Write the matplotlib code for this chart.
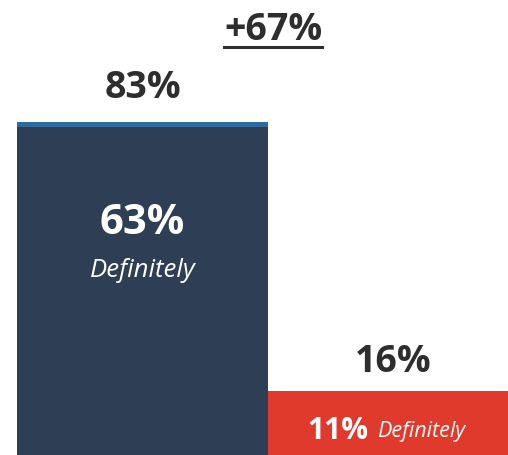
import numpy as np
import matplotlib.pyplot as plt

# values
groups = ['Group A', 'Group B']
totals = [83, 16]
definitely = [63, 11]
change_label = '+67%'

navy = '#2d3e55'
red = '#e03a2d'
dark = '#2e2e2e'

plt.rcParams['font.family'] = ['Open Sans', 'DejaVu Sans']

fig = plt.figure(figsize=(5.08, 4.56), dpi=100)
ax = fig.add_axes([0, 0, 1, 1])

x = np.arange(len(groups))
ax.bar(x, totals, width=1.0, color=[navy, red], linewidth=0)
# lighter bevel strip on top of the first bar
ax.bar(x[0], 1.3, bottom=totals[0] - 1.3, width=1.0, color='#2f6b9c', linewidth=0)

ax.set_xlim(-0.568, 1.456)
ax.set_ylim(0, 113.7)
ax.axis('off')

# totals above bars
ax.text(x[0], totals[0] + 8.7, f'{totals[0]}%', ha='center', va='center',
        fontsize=27, fontweight='bold', color=dark)
ax.text(x[1], totals[1] + 7.4, f'{totals[1]}%', ha='center', va='center',
        fontsize=27, fontweight='bold', color=dark)

# "definitely" inside first bar
ax.text(x[0], 58, f'{definitely[0]}%', ha='center', va='center',
        fontsize=30, fontweight='bold', color='white')
ax.text(x[0], 46.3, 'Definitely', ha='center', va='center',
        fontsize=18.5, style='italic', color='white')

# "definitely" inside second bar
ax.annotate(f'{definitely[1]}%', (x[1], 6.3), xytext=(-18, 0), textcoords='offset points',
            ha='right', va='center', fontsize=21.5, fontweight='bold', color='white')
ax.annotate('Definitely', (x[1], 6.0), xytext=(-12, 0), textcoords='offset points',
            ha='left', va='center', fontsize=15.5, style='italic', color='white')

# change label with underline
t = ax.text(0.52, 106.3, change_label, ha='center', va='center',
            fontsize=27, fontweight='bold', color=dark)
fig.canvas.draw()
bb = t.get_window_extent().transformed(fig.transFigure.inverted())
fig.add_artist(plt.Line2D([bb.x0, bb.x1], [bb.y0 + 0.001, bb.y0 + 0.001],
                          transform=fig.transFigure, color=dark, linewidth=2.2))

fig.savefig('out.png', dpi=100)
